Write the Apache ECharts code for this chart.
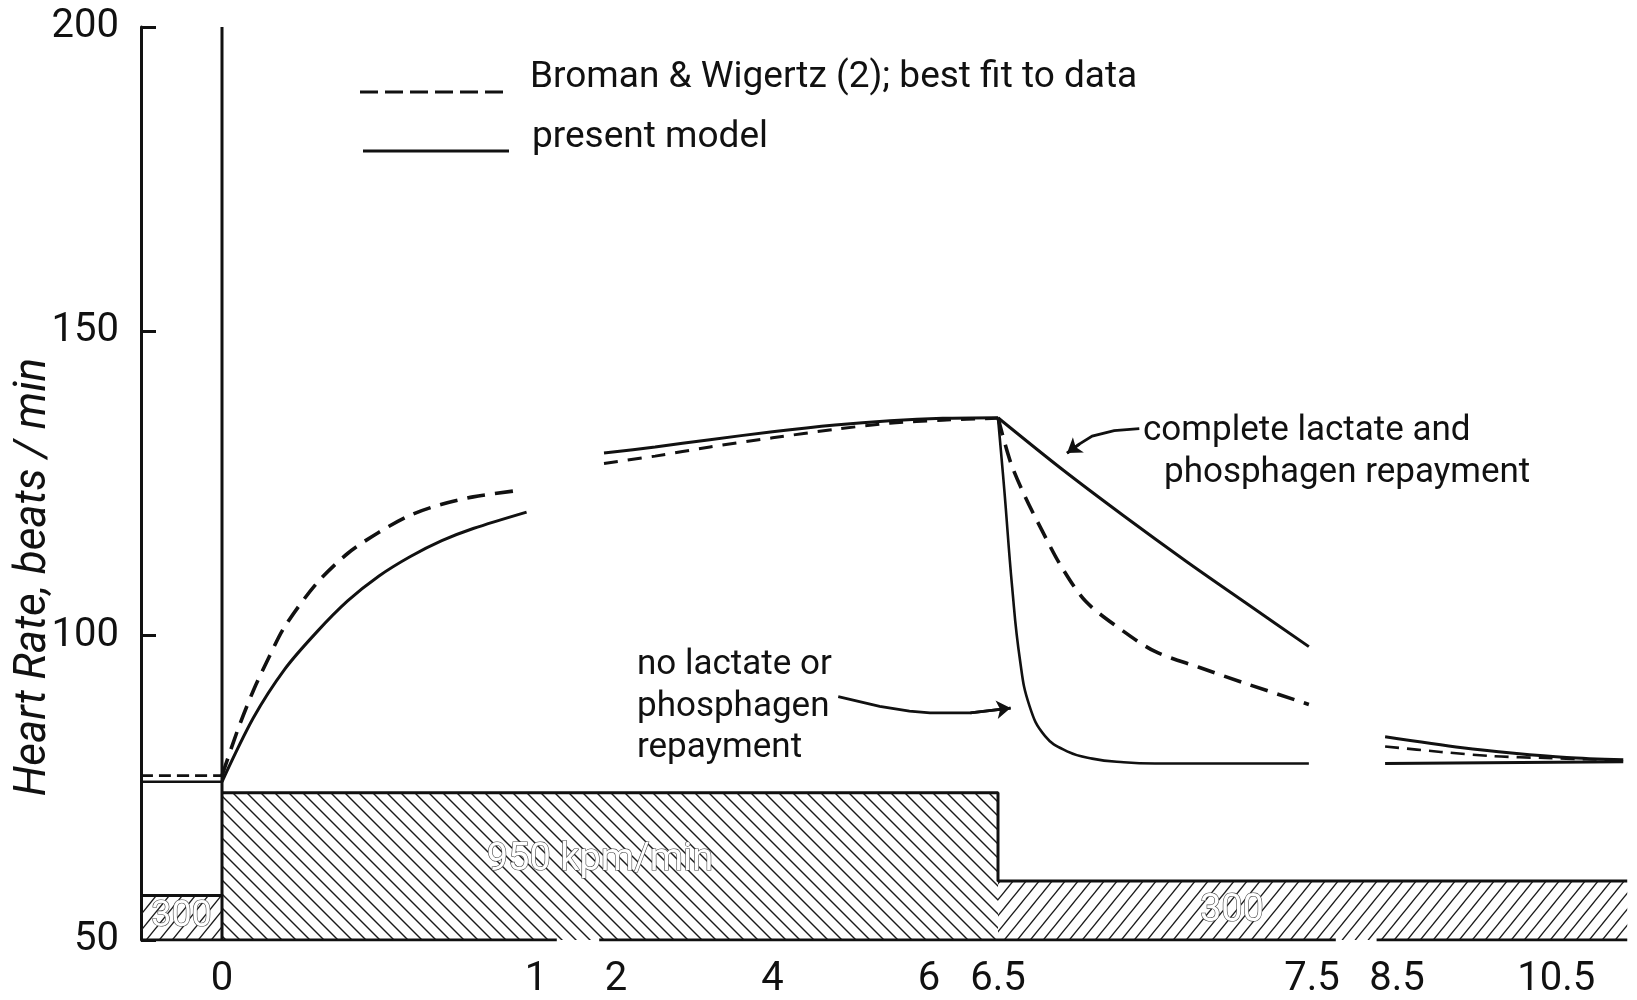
<!DOCTYPE html>
<html>
<head>
<meta charset="utf-8">
<title>Heart rate model</title>
<script src="https://cdn.jsdelivr.net/npm/echarts@6/dist/echarts.min.js"></script>
<style>
  html, body { margin: 0; padding: 0; background: #fff; }
  #chart { width: 1637px; height: 1000px; }
</style>
</head>
<body>
<div id="chart"></div>
<script>
// broken time axis: minutes -> axis units, linear between knots
const tKnots = [-1, 0, 1, 2, 6, 6.5, 7.5, 8.5, 11.5];
const uKnots = [141, 222, 536, 616, 929, 998, 1312, 1397, 1636];

const tickTimes = [0, 1, 2, 4, 6, 6.5, 7.5, 8.5, 10.5];
const tickLabels = ['0', '1', '2', '4', '6', '6.5', '7.5', '8.5', '10.5'];

// rest before exercise
const restT = [-1, 0];
const restModelHR = [76, 76];
const restBromanHR = [77, 77];

// on-transient, 0..1 min
const modelOnT = [0, 0.1, 0.2, 0.3, 0.4, 0.5, 0.6, 0.7, 0.8, 0.97];
const modelOnHR = [76, 86.5, 94.5, 100.5, 105.7, 109.8, 113, 115.6, 117.6, 120.3];
const bromanOnT = [0, 0.05, 0.1, 0.15, 0.2, 0.3, 0.4, 0.5, 0.6, 0.7, 0.8, 0.95];
const bromanOnHR = [77, 84.5, 91, 96.5, 101.5, 108.5, 113.5, 117, 119.8, 121.6, 122.8, 123.9];

// steady exercise, 2..6.5 min
const modelExT = [1.85, 2.5, 3.2, 4.0, 4.8, 5.5, 6.1, 6.5];
const modelExHR = [130.0, 131.0, 132.2, 133.5, 134.6, 135.3, 135.7, 135.8];
const bromanExT = [1.85, 2.5, 3.2, 4.0, 4.8, 5.5, 6.1, 6.5];
const bromanExHR = [128.3, 129.5, 131.0, 132.5, 133.9, 134.9, 135.4, 135.7];

// recovery, 6.5..7.5 min
const completeRecT = [6.5, 6.7, 6.9, 7.1, 7.3, 7.49];
const completeRecHR = [135.8, 127.5, 119.7, 112.2, 105.0, 98.2];
const bromanRecT = [6.5, 6.54, 6.585, 6.64, 6.7, 6.78, 6.9, 7.0, 7.14, 7.28, 7.49];
const bromanRecHR = [135.8, 128.5, 123.0, 117.3, 111.5, 105.6, 100.7, 97.4, 94.8, 92.3, 88.7];
const noRepayRecT = [6.5, 6.52, 6.545, 6.57, 6.6, 6.65, 6.72, 6.8, 6.9, 7.0, 7.49];
const noRepayRecHR = [135.8, 124, 108, 96, 88.5, 83.5, 81, 79.8, 79.2, 79, 79];

// late recovery, 8.5.. min
const completeLateT = [8.36, 9.32, 9.97, 10.63, 11.34];
const completeLateHR = [83.4, 81.6, 80.7, 80.0, 79.6];
const bromanLateT = [8.36, 9.05, 9.71, 10.36, 10.89, 11.34];
const bromanLateHR = [81.8, 80.9, 80.2, 79.9, 79.7, 79.5];
const noRepayLateT = [8.36, 11.34];
const noRepayLateHR = [79.0, 79.3];

// work load blocks (kpm/min)
const workStart = [-1, 0, 6.5];
const workEnd = [0, 6.5, 11.39];
const workTop = [57.3, 74.2, 59.7];
const workText = ['300', '950 kpm/min', '300'];
const workHatch = ['/', '\\', '/'];

// gaps in the drawn base line
const baseBreaks = [[1.26, 1.79], [7.78, 8.26]];

function tmap(t) {
  for (let i = 0; i < tKnots.length - 1; i++) {
    if (t <= tKnots[i + 1] || i === tKnots.length - 2) {
      const f = (t - tKnots[i]) / (tKnots[i + 1] - tKnots[i]);
      return uKnots[i] + f * (uKnots[i + 1] - uKnots[i]);
    }
  }
}
function pts(ts, hs) { return ts.map((t, i) => [tmap(t), hs[i]]); }

function hatch(dir, w, h) {
  const c = document.createElement('canvas');
  c.width = w; c.height = h;
  const g = c.getContext('2d');
  g.strokeStyle = '#1a1a1a';
  g.lineWidth = 1.4;
  for (const dx of [-w, 0, w]) {
    g.beginPath();
    if (dir === '\\') { g.moveTo(dx - w, -h); g.lineTo(dx + 2 * w, 2 * h); }
    else { g.moveTo(dx - w, 2 * h); g.lineTo(dx + 2 * w, -h); }
    g.stroke();
  }
  return c;
}
const patterns = {
  '\\': { image: hatch('\\', 14, 14), repeat: 'repeat' },
  '/': { image: hatch('/', 13, 16), repeat: 'repeat' }
};

// text anchors inside the blocks (minutes, beats/min) and sizes
const blockTextPos = [[-0.5, 53.8, 36], [1.8, 63.1, 38], [7.245, 54.7, 38]];

const INK = '#111';
const FONT = 'Roboto, "DejaVu Sans", sans-serif';

function solid(data, width) {
  return {
    type: 'line', data: data, showSymbol: false, symbol: 'none',
    smooth: 0.3, z: 5,
    lineStyle: { color: INK, width: width || 3 }
  };
}
function dashed(data, width, dash) {
  return {
    type: 'line', data: data, showSymbol: false, symbol: 'none',
    smooth: 0.3, z: 5,
    lineStyle: { color: INK, width: width || 3.6, type: dash || [18, 10] }
  };
}
function edge(data, width) {
  return {
    type: 'line', data: data, showSymbol: false, symbol: 'none', z: 4,
    lineStyle: { color: INK, width: width || 3 }
  };
}

var chart = echarts.init(document.getElementById('chart'));

let series = [];

// hatched work load blocks
series.push({
  type: 'custom',
  z: 1,
  encode: { x: [0, 1], y: 2 },
  data: workStart.map((s, i) => [tmap(s), tmap(workEnd[i]), workTop[i], i]),
  renderItem: function (params, api) {
    const i = api.value(3);
    const p0 = api.coord([api.value(0), api.value(2)]);
    const p1 = api.coord([api.value(1), 50]);
    const tp = api.coord([tmap(blockTextPos[i][0]), blockTextPos[i][1]]);
    return {
      type: 'group',
      children: [
        { type: 'rect', shape: { x: p0[0], y: p0[1], width: p1[0] - p0[0], height: p1[1] - p0[1] },
          style: { fill: patterns[workHatch[i]] } },
        { type: 'text', style: { text: workText[i], x: tp[0], y: tp[1],
            font: blockTextPos[i][2] + 'px ' + FONT, fill: '#fff', stroke: '#444', lineWidth: 1.2,
            align: 'center', verticalAlign: 'middle' } }
      ]
    };
  }
});

// block outlines, the t=0 marker and the base line
series.push(edge(pts([workStart[0], workEnd[0]], [workTop[0], workTop[0]])));
series.push(edge(pts([workStart[1], workEnd[1], workEnd[1], workEnd[2]],
                     [workTop[1], workTop[1], workTop[2], workTop[2]])));
series.push(edge(pts([0, 0], [200, 50])));
let baseFrom = workStart[0];
baseBreaks.forEach(b => {
  series.push(edge(pts([baseFrom, b[0]], [50, 50])));
  baseFrom = b[1];
});
series.push(edge(pts([baseFrom, workEnd[2]], [50, 50])));

// present model
series.push(solid(pts(restT, restModelHR), 2.6));
series.push(solid(pts(modelOnT, modelOnHR)));
series.push(solid(pts(modelExT, modelExHR)));
series.push(solid(pts(completeRecT, completeRecHR)));
series.push(Object.assign(solid(pts(noRepayRecT, noRepayRecHR), 2.6), { smooth: 0.45 }));
series.push(solid(pts(completeLateT, completeLateHR)));
series.push(solid(pts(noRepayLateT, noRepayLateHR)));

// Broman & Wigertz
series.push(dashed(pts(restT, restBromanHR), 2.6, [12, 6]));
series.push(dashed(pts(bromanOnT, bromanOnHR)));
series.push(dashed(pts(bromanExT, bromanExHR), 3, [14, 10]));
series.push(dashed(pts(bromanRecT, bromanRecHR)));
series.push(dashed(pts(bromanLateT, bromanLateHR), 2.6, [14, 8]));

// annotation arrows (minutes, beats/min)
const arrowNoRepT = [4.84, 5.37, 5.75, 6.007, 6.3, 6.54];
const arrowNoRepHR = [90.0, 88.4, 87.6, 87.3, 87.3, 88.1];
const arrowCompleteT = [6.95, 6.87, 6.8, 6.76, 6.72];
const arrowCompleteHR = [134.0, 133.7, 132.8, 131.5, 130.0];
const arrows = [pts(arrowNoRepT, arrowNoRepHR), pts(arrowCompleteT, arrowCompleteHR)];
series.push({
  type: 'lines', coordinateSystem: 'cartesian2d', polyline: true, z: 6,
  lineStyle: { color: INK, width: 2.8, opacity: 1 },
  data: arrows.map(a => ({ coords: a }))
});
// heads on the last piece of each arrow
series.push({
  type: 'lines', coordinateSystem: 'cartesian2d', z: 6,
  symbol: ['none', 'arrow'], symbolSize: 14,
  lineStyle: { color: INK, width: 2.8, opacity: 1, curveness: 0 },
  data: arrows.map(a => ({ coords: [a[a.length - 2], a[a.length - 1]] }))
});

function txt(s, x, y, size, extra) {
  return Object.assign({
    type: 'text', x: x, y: y, z: 10,
    style: { text: s, font: (size || 34) + 'px ' + FONT, fill: INK,
             textAlign: 'left', textVerticalAlign: 'middle', align: 'left', verticalAlign: 'middle' }
  }, extra || {});
}

var option = {
  backgroundColor: '#fff',
  animation: false,
  grid: { left: 141, right: 1, top: 27, bottom: 53 },
  xAxis: {
    type: 'value', min: 141, max: 1636,
    axisLine: { show: false },
    axisTick: { show: false },
    splitLine: { show: false },
    axisLabel: {
      customValues: tickTimes.map(tmap),
      margin: 20,
      color: INK, fontSize: 40, fontFamily: FONT,
      formatter: function (v) {
        let best = 0;
        tickTimes.forEach((t, i) => { if (Math.abs(tmap(t) - v) < Math.abs(tmap(tickTimes[best]) - v)) best = i; });
        return tickLabels[best];
      }
    }
  },
  yAxis: {
    type: 'value', min: 50, max: 200, interval: 50,
    axisLine: { show: true, lineStyle: { color: INK, width: 3 } },
    axisTick: { show: true, inside: true, length: 15, lineStyle: { color: INK, width: 3 } },
    splitLine: { show: false },
    axisLabel: { color: INK, fontSize: 40, fontFamily: FONT, margin: 22 }
  },
  graphic: [
    // legend
    { type: 'line', shape: { x1: 360, y1: 92, x2: 509, y2: 92 }, z: 10,
      style: { stroke: INK, lineWidth: 3.2, lineDash: [18, 7] } },
    txt('Broman & Wigertz (2); best fit to data', 530, 78, 37),
    { type: 'line', shape: { x1: 363, y1: 151, x2: 509, y2: 151 }, z: 10,
      style: { stroke: INK, lineWidth: 3.2 } },
    txt('present model', 532, 138, 37),
    // annotations
    txt('complete lactate and', 1143, 431, 35),
    txt('phosphagen repayment', 1164, 473, 35),
    txt('no lactate or', 637, 665, 35),
    txt('phosphagen', 637, 707, 35),
    txt('repayment', 637, 748, 35),
    // y axis name
    { type: 'text', x: 34, y: 577, rotation: Math.PI / 2, z: 10,
      style: { text: 'Heart Rate, beats / min', font: 'italic 44px ' + FONT, fill: INK,
               textAlign: 'center', textVerticalAlign: 'middle', align: 'center', verticalAlign: 'middle' } }
  ],
  series: series
};

chart.setOption(option);
</script>
</body>
</html>
